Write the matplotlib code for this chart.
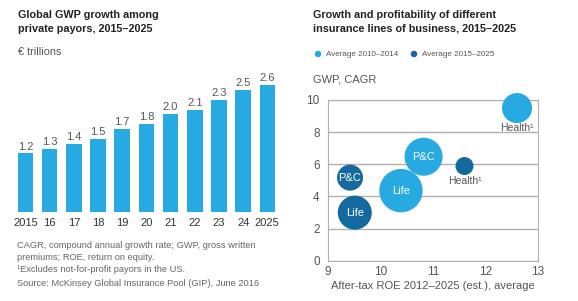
import numpy as np
import matplotlib
matplotlib.use('Agg')
import matplotlib.pyplot as plt

plt.rcParams['font.family'] = ['Liberation Sans', 'DejaVu Sans']

W, H = 578, 301

### data
years = ['2015', '16', '17', '18', '19', '20', '21', '22', '23', '24', '2025']
gwp = [1.2, 1.3, 1.4, 1.5, 1.7, 1.8, 2.0, 2.1, 2.3, 2.5, 2.6]

lines = ['Health', 'P&C', 'Life']
roe_early = [12.6, 10.82, 10.39]
cagr_early = [9.5, 6.47, 4.36]
size_early = [225, 361, 470]
roe_late = [11.6, 9.42, 9.51]
cagr_late = [5.89, 5.17, 2.99]
size_late = [81, 169, 289]

light = '#27a9e1'
dark = '#14699e'
legend_dark = '#1f5fa8'
grey_txt = '#555555'
title_col = '#222222'


def fx(x):
    return x / W


def fy(y):
    return 1 - y / H


fig = plt.figure(figsize=(W / 100, H / 100), dpi=100)

### left: bar chart
ax1 = fig.add_axes([fx(13.4), fy(212), 266 / W, 136.6 / H])
x = np.arange(len(years))
ax1.bar(x, gwp, width=0.64, color=light)
for xi, v in zip(x, gwp):
    ax1.text(xi, v + 0.04, '%.1f' % v, ha='center', va='bottom',
             fontsize=8, color=grey_txt)
ax1.set_xlim(-0.5, len(years) - 0.5)
ax1.set_ylim(0, 2.8)
ax1.set_xticks(x)
ax1.set_xticklabels(years, fontsize=8, color='#333333')
ax1.tick_params(axis='x', length=0, pad=4)
ax1.set_yticks([])
for s in ax1.spines.values():
    s.set_visible(False)

fig.text(fx(18), fy(22), 'Global GWP growth among\nprivate payors, 2015\u20132025',
         fontsize=7.8, fontweight='bold', color=title_col, va='center',
         linespacing=1.45)
fig.text(fx(18), fy(52), '\u20ac trillions', fontsize=7.8, color=grey_txt, va='center')

notes = [(246, 'CAGR, compound annual growth rate; GWP, gross written'),
         (258, 'premiums; ROE, return on equity.'),
         (270, '\u00b9Excludes not-for-profit payors in the US.'),
         (284, 'Source: McKinsey Global Insurance Pool (GIP), June 2016')]
for yy, t in notes:
    fig.text(fx(17), fy(yy), t, fontsize=6.7, color='#666666', va='center')

### right: bubble chart
ax2 = fig.add_axes([fx(328), fy(260.7), 210 / W, 160.7 / H])
k = (2 * 0.72) ** 2
ax2.scatter(roe_early, cagr_early, s=np.array(size_early) * k, color=light,
            zorder=3, clip_on=False, linewidths=0)
ax2.scatter(roe_late, cagr_late, s=np.array(size_late) * k, color=dark,
            zorder=3, clip_on=False, linewidths=0)
for name, xx, yy in zip(lines, roe_early, cagr_early):
    if name == 'Health':
        ax2.text(xx, yy - 1.25, 'Health\u00b9', ha='center', va='center',
                 fontsize=7.5, color=grey_txt, zorder=4)
    else:
        ax2.text(xx, yy, name, ha='center', va='center', fontsize=8,
                 color='white', zorder=4)
for name, xx, yy in zip(lines, roe_late, cagr_late):
    if name == 'Health':
        ax2.text(xx, yy - 0.95, 'Health\u00b9', ha='center', va='center',
                 fontsize=7.5, color=grey_txt, zorder=4)
    else:
        ax2.text(xx, yy, name, ha='center', va='center', fontsize=8,
                 color='white', zorder=4)

ax2.set_xlim(9, 13)
ax2.set_ylim(0, 10)
ax2.set_xticks([9, 10, 11, 12, 13])
ax2.set_yticks([0, 2, 4, 6, 8, 10])
ax2.grid(axis='y', color='#b0b0b0', linewidth=1)
ax2.set_axisbelow(True)
for s in ax2.spines.values():
    s.set_color('#b0b0b0')
ax2.tick_params(length=0, labelsize=8.5, labelcolor=grey_txt)
ax2.tick_params(axis='y', pad=6)
ax2.tick_params(axis='x', pad=4)
ax2.set_xlabel('After-tax ROE 2012\u20132025 (est.), average', fontsize=8,
               color=grey_txt, labelpad=2)

fig.text(fx(313), fy(22), 'Growth and profitability of different\ninsurance lines of business, 2015\u20132025',
         fontsize=7.8, fontweight='bold', color=title_col, va='center',
         linespacing=1.45)
fig.text(fx(313), fy(79), 'GWP, CAGR', fontsize=8, color=grey_txt, va='center')

# legend drawn in pixel coordinates
lg = fig.add_axes([0, 0, 1, 1], facecolor='none')
lg.set_axis_off()
lg.set_xlim(0, W)
lg.set_ylim(H, 0)
lg.scatter([318, 414], [54, 54], s=22, color=[light, legend_dark], linewidths=0)
lg.text(326, 54, 'Average 2010\u20132014', fontsize=5.8, color=grey_txt, va='center')
lg.text(422, 54, 'Average 2015\u20132025', fontsize=5.8, color=grey_txt, va='center')

fig.savefig('out.png', dpi=100)
